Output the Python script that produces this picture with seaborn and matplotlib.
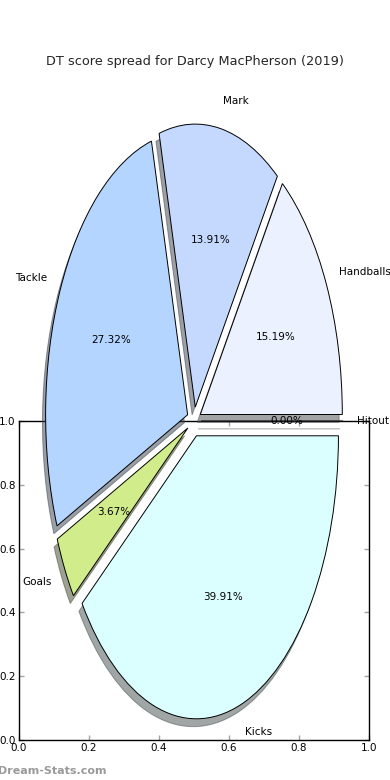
import matplotlib
matplotlib.use("Agg")
import matplotlib.pyplot as plt
import seaborn as sns

# ---- data ----
categories = ["Handballs", "Mark", "Tackle", "Goals", "Kicks", "Hitout"]
shares = [15.19, 13.91, 27.32, 3.67, 39.91, 0.00]
colors = ["#ebf1ff", "#c5d9ff", "#b4d5ff", "#d1ec8a", "#dbffff", "#f0f0f0"]
explode = [0.05, 0.05, 0.05, 0.05, 0.055, 0.05]
box_ticks = [0.0, 0.2, 0.4, 0.6, 0.8, 1.0]
box_ticklabels = ["0.0", "0.2", "0.4", "0.6", "0.8", "1.0"]
title = "DT score spread for Darcy MacPherson (2019)"
watermark = "Dream-Stats.com"

sns.set_style("ticks")
plt.rcParams["font.family"] = ["DejaVu Sans"]

fig = plt.figure(figsize=(3.9, 7.8), dpi=100)

# background axes with 0..1 ticks
box = fig.add_axes([19 / 390, 40 / 780, 350 / 390, 319 / 780])
box.set_xlim(0, 1)
box.set_ylim(0, 1)
box.set_xticks(box_ticks)
box.set_xticklabels(box_ticklabels)
box.set_yticks(box_ticks)
box.set_yticklabels(box_ticklabels)
for s in box.spines.values():
    s.set_color("black")
    s.set_linewidth(1.0)
box.tick_params(direction="in", length=3.5, width=1, color="0.65",
                labelsize=7.5, labelcolor="black", pad=2.5,
                top=True, right=True)

# pie axes (non-equal aspect, drawn above the box)
cx, cy, rx, ry = 194, 421, 142, 283
lim = 1.3
pie_ax = fig.add_axes([(cx - lim * rx) / 390, ((780 - cy) - lim * ry) / 780,
                       2 * lim * rx / 390, 2 * lim * ry / 780])
pie_ax.pie(shares, labels=categories, colors=colors, explode=explode,
           autopct="%.2f%%", startangle=0,
           shadow={"ox": -0.016, "oy": -0.02},
           wedgeprops=dict(edgecolor="black", linewidth=0.7),
           textprops=dict(fontsize=7.5, color="black"))
pie_ax.set_aspect("auto")
pie_ax.set_xlim(-lim, lim)
pie_ax.set_ylim(-lim, lim)
pie_ax.set_axis_off()

fig.text(0.5, 1 - 61 / 780, title, ha="center", va="center", fontsize=9.3)
fig.text(-2 / 390, 1 - 771 / 780, watermark, ha="left", va="center",
         fontsize=8, fontweight="bold", color="#9a9a9a")

fig.savefig("out.png", dpi=100)
